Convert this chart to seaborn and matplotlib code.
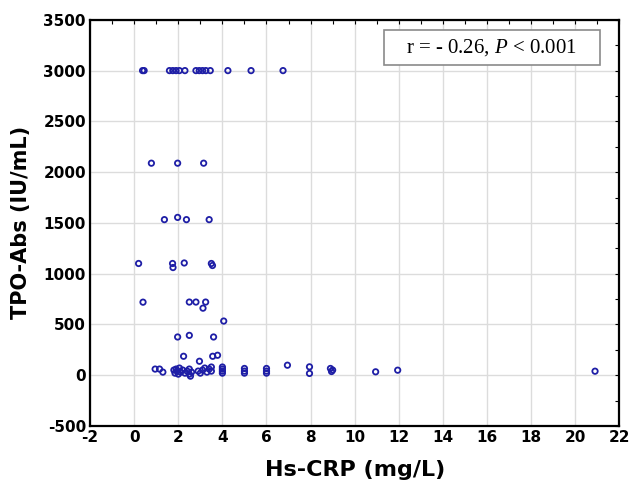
import matplotlib
matplotlib.use("Agg")
import matplotlib.pyplot as plt
from matplotlib.patches import Rectangle
import seaborn as sns
import numpy as np
import pandas as pd

# Hs-CRP (mg/L) vs TPO-Abs (IU/mL)
crp = [
    # 3000 row
    0.38, 0.45, 1.6, 1.75, 1.9, 2.05, 2.3, 2.8, 2.95, 3.1, 3.25, 3.45, 4.25, 5.3, 6.75,
    # ~2080 row
    0.78, 1.97, 3.15,
    # ~1530 row
    1.37, 1.97, 2.37, 3.4,
    # ~1100 row
    0.2, 1.74, 1.76, 2.27, 3.5, 3.55,
    # ~700 row
    0.4, 2.5, 2.8, 3.24, 3.12,
    4.06,
    1.97, 2.5, 3.6,
    2.24, 2.96, 3.56, 3.78,
    # bottom cluster
    0.95, 1.15, 1.3,
    1.8, 1.85, 1.9, 1.95, 2.0, 2.05, 2.1, 2.2, 2.3, 2.4, 2.5, 2.55, 2.6, 2.5,
    2.9, 3.0, 3.1, 3.2, 3.3, 3.4, 3.5, 3.5,
    4.0, 4.0, 4.0, 4.0,
    5.0, 5.0, 5.0,
    6.0, 6.0, 6.0,
    6.95,
    7.95, 7.95,
    8.9, 8.95, 9.0,
    10.95, 11.95, 20.9,
]
tpo = [
    3000, 3000, 3000, 3000, 3000, 3000, 3000, 3000, 3000, 3000, 3000, 3000, 3000, 3000, 3000,
    2088, 2088, 2088,
    1532, 1554, 1532, 1532,
    1100, 1100, 1060, 1105, 1100, 1080,
    719, 720, 720, 720, 660,
    533,
    376, 392, 376,
    186, 137, 186, 196,
    60, 60, 30,
    50, 20, 60, 40, 10, 70, 30, 50, 20, 40, 60, -10, 30, 10,
    40, 20, 50, 70, 30, 60, 40, 80,
    80, 60, 40, 20,
    66, 40, 20,
    66, 40, 20,
    98,
    82, 17,
    66, 36, 50,
    33, 49, 39,
]

df = pd.DataFrame({"crp": crp, "tpo": tpo})

sns.set_style("whitegrid")
plt.rcParams["font.family"] = ["DejaVu Sans Condensed", "DejaVu Sans"]
plt.rcParams["axes.unicode_minus"] = False
plt.rcParams["text.color"] = "black"
plt.rcParams["axes.labelcolor"] = "black"
plt.rcParams["xtick.color"] = "black"
plt.rcParams["ytick.color"] = "black"
plt.rcParams["mathtext.fontset"] = "custom"
plt.rcParams["mathtext.rm"] = "Liberation Serif"
plt.rcParams["mathtext.it"] = "Liberation Serif:italic"

fig = plt.figure(figsize=(6.3, 4.84), dpi=100)
ax = fig.add_axes([0.143, 0.120, 0.84, 0.839])

sns.scatterplot(data=df, x="crp", y="tpo", ax=ax, marker="o", s=15,
                facecolor="none", edgecolor="#1e1ea6", linewidth=1.3)

ax.set_xlim(-2, 22)
ax.set_ylim(-500, 3500)
ax.set_xticks(np.arange(-2, 23, 2))
ax.set_yticks(np.arange(-500, 3501, 500))
ax.set_xticks(np.arange(-1, 22, 2), minor=True)
ax.set_yticks(np.arange(-250, 3500, 500), minor=True)

ax.grid(True, which="major", color="#dcdcdc", linewidth=1)
ax.grid(False, which="minor")
for s in ax.spines.values():
    s.set_color("black")
    s.set_linewidth(1.6)

ax.tick_params(axis="both", which="major", labelsize=11, pad=3)
ax.tick_params(top=True, right=True, which="both", direction="in",
               labeltop=False, labelright=False)
ax.tick_params(axis="x", which="both", bottom=False)
ax.tick_params(axis="y", which="both", left=False)
ax.tick_params(which="both", length=3, width=0.8)
for lab in ax.get_xticklabels() + ax.get_yticklabels():
    lab.set_fontweight("bold")

ax.set_xlabel("Hs-CRP (mg/L)", fontsize=16, fontweight="bold", labelpad=11)
ax.set_ylabel("TPO-Abs (IU/mL)", fontsize=15, fontweight="bold", labelpad=9)

# annotation box
ax.add_patch(Rectangle((0.555, 0.889), 0.408, 0.086, transform=ax.transAxes,
                       facecolor="white", edgecolor="#8a8a8a", linewidth=1.2,
                       zorder=3))
ax.text(0.759, 0.932, r"r = - 0.26, $\it{P}$ < 0.001", transform=ax.transAxes,
        fontsize=15, family="Liberation Serif", ha="center", va="center",
        zorder=4)

fig.savefig("out.png", dpi=100)
